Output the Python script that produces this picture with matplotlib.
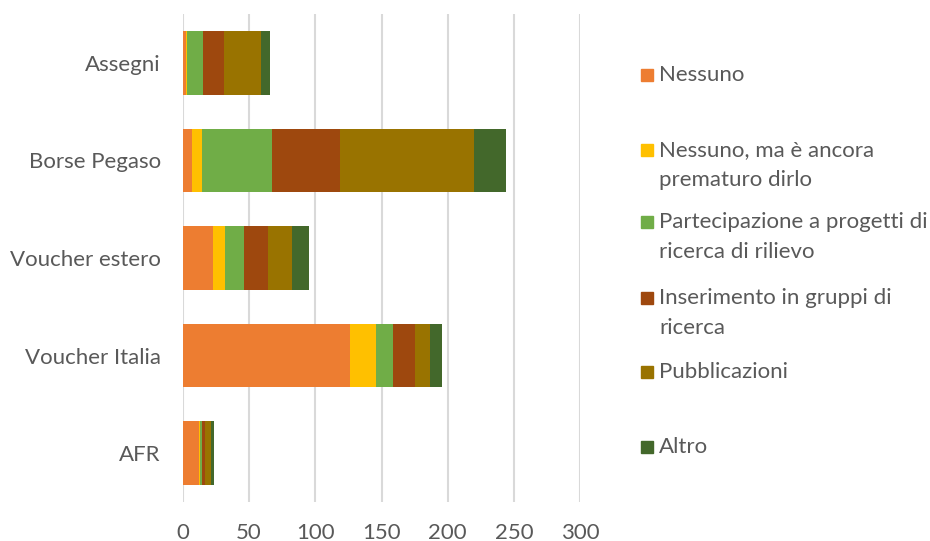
import matplotlib
matplotlib.use("Agg")
import matplotlib.pyplot as plt
import numpy as np
from matplotlib.patches import Rectangle

categories = ["AFR", "Voucher Italia", "Voucher estero", "Borse Pegaso", "Assegni"]
series_names = ["Nessuno", "Nessuno, ma è ancora\nprematuro dirlo",
                "Partecipazione a progetti di\nricerca di rilievo",
                "Inserimento in gruppi di\nricerca", "Pubblicazioni", "Altro"]
nessuno = [12, 126, 23, 7, 2]
nessuno_ma = [1, 20, 9, 7, 1]
partecipazione = [1.5, 13, 14, 53, 12]
inserimento = [2, 16, 18, 52, 16]
pubblicazioni = [4.5, 12, 18, 101, 28]
altro = [2.5, 9, 13, 24, 7]
series = [nessuno, nessuno_ma, partecipazione, inserimento, pubblicazioni, altro]
colors = ["#ED7D31", "#FFC000", "#70AD47", "#9E480E", "#997300", "#43682B"]
xticks = [0, 50, 100, 150, 200, 250, 300]

plt.rcParams['font.family'] = ['Lato', 'DejaVu Sans']
text_color = "#595959"
fs = 16

fig = plt.figure(figsize=(9.3, 5.41), dpi=100)
ax_top, ax_bot = 14, 502
ax = fig.add_axes([183/930, 1-ax_bot/541, (580-183)/930, (ax_bot-ax_top)/541])

y = np.arange(len(categories))
left = np.zeros(len(categories))
for vals, col, name in zip(series, colors, series_names):
    ax.barh(y, vals, left=left, height=0.65, color=col, label=name, zorder=3)
    left += np.array(vals)

ax.set_xlim(0, 300)
ax.set_ylim(-0.5, len(categories) - 0.5)
ax.set_xticks(xticks)
ax.set_xticklabels([str(t) for t in xticks])
ax.set_yticks(y)
ax.set_yticklabels(categories)
ax.grid(axis='x', color='#D9D9D9', linewidth=1.5, zorder=0)
for s in ax.spines.values():
    s.set_visible(False)
ax.tick_params(axis='both', length=0, labelsize=fs, colors=text_color)
ax.tick_params(axis='x', pad=15)
ax.tick_params(axis='y', pad=16)

# legend drawn manually (Excel-style spacing)
legend_y = [75, 150, 222, 298, 372, 447]
line_gap = 30
for name, col, ly in zip(series_names, colors, legend_y):
    fig.patches.append(Rectangle((641/930, 1 - (ly + 6)/541), 12/930, 12/541,
                                 transform=fig.transFigure, color=col))
    for i, line in enumerate(name.split("\n")):
        fig.text(659/930, 1 - (ly + i*line_gap)/541, line, ha='left', va='center',
                 fontsize=fs, color=text_color)

fig.savefig("out.png", dpi=100)
